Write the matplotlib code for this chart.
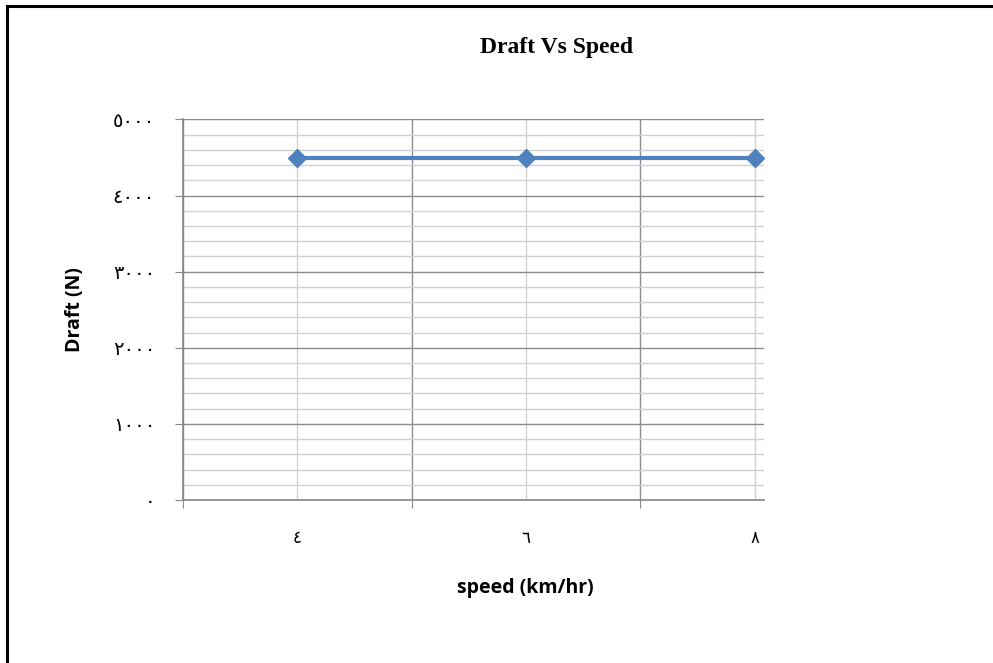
import numpy as np
import matplotlib.pyplot as plt
from matplotlib.lines import Line2D
from matplotlib.ticker import MultipleLocator

# data
speed_labels = ['٤', '٦', '٨']          # 4, 6, 8 km/hr
draft = [4500, 4500, 4500]
y_ticks = [0, 1000, 2000, 3000, 4000, 5000]
y_tick_labels = ['٠', '١٠٠٠', '٢٠٠٠', '٣٠٠٠', '٤٠٠٠', '٥٠٠٠']

fig = plt.figure(figsize=(9.93, 6.63), dpi=100)
ax = fig.add_axes([0.1843, 0.2459, 0.7694 - 0.1843, 0.8198 - 0.2459])

x = np.arange(len(draft))
ax.plot(x, draft, color='#4F81BD', lw=3, marker='D', markersize=9,
        markerfacecolor='#4F81BD', markeredgecolor='#4F81BD', zorder=5,
        clip_on=False)

ax.set_xlim(-0.5, 2.04)
ax.set_ylim(0, 5000)

# y axis: majors every 1000, minors every 200
ax.set_yticks(y_ticks)
ax.set_yticklabels(y_tick_labels, family='DejaVu Sans', fontsize=14)
ax.yaxis.set_minor_locator(MultipleLocator(200))
ax.tick_params(axis='y', which='major', length=6, color='#888888',
               pad=14, direction='out')
ax.tick_params(axis='y', which='minor', length=0)

# x axis: major ticks at category boundaries, labels at centres
ax.set_xticks([-0.5, 0.5, 1.5])
ax.set_xticklabels(['', '', ''])
ax.set_xticks(x, minor=True)
ax.set_xticklabels(speed_labels, minor=True, family='DejaVu Sans',
                   fontsize=12)
ax.tick_params(axis='x', which='major', length=6, color='#888888',
               direction='out')
ax.tick_params(axis='x', which='minor', length=0, pad=21)

ax.grid(True, which='major', color='#8c8c8c', lw=1)
ax.grid(True, which='minor', color='#d0d0d0', lw=1)
ax.set_axisbelow(True)

for s in ['top', 'right']:
    ax.spines[s].set_visible(False)
for s in ['left', 'bottom']:
    ax.spines[s].set_color('#888888')
    ax.spines[s].set_linewidth(1.2)

ax.set_xlabel('speed (km/hr)', fontsize=14, fontweight='bold',
              family='Open Sans')
ax.set_ylabel('Draft (N)', fontsize=14, fontweight='bold',
              family='Open Sans')
# label centred on the full (uncropped) category range
ax.xaxis.set_label_coords((525 - 183) / (764 - 183), -(588 - 500) / 381)
ax.yaxis.set_label_coords(-(183 - 75) / (764 - 183), 0.5)
ax.xaxis.label.set_va('center')
ax.yaxis.label.set_va('center')

fig.text(557 / 993, 1 - 48 / 663, 'Draft Vs Speed', ha='center',
         va='center', fontsize=17, fontweight='bold',
         family='Liberation Serif')

# chart frame (clipped on the right and bottom as in the source)
fig.add_artist(Line2D([7 / 993, 7 / 993], [0, 1 - 6 / 663],
                      transform=fig.transFigure, color='black', lw=2.2))
fig.add_artist(Line2D([7 / 993, 1], [1 - 6 / 663, 1 - 6 / 663],
                      transform=fig.transFigure, color='black', lw=2.2))

fig.savefig('out.png', dpi=100)
